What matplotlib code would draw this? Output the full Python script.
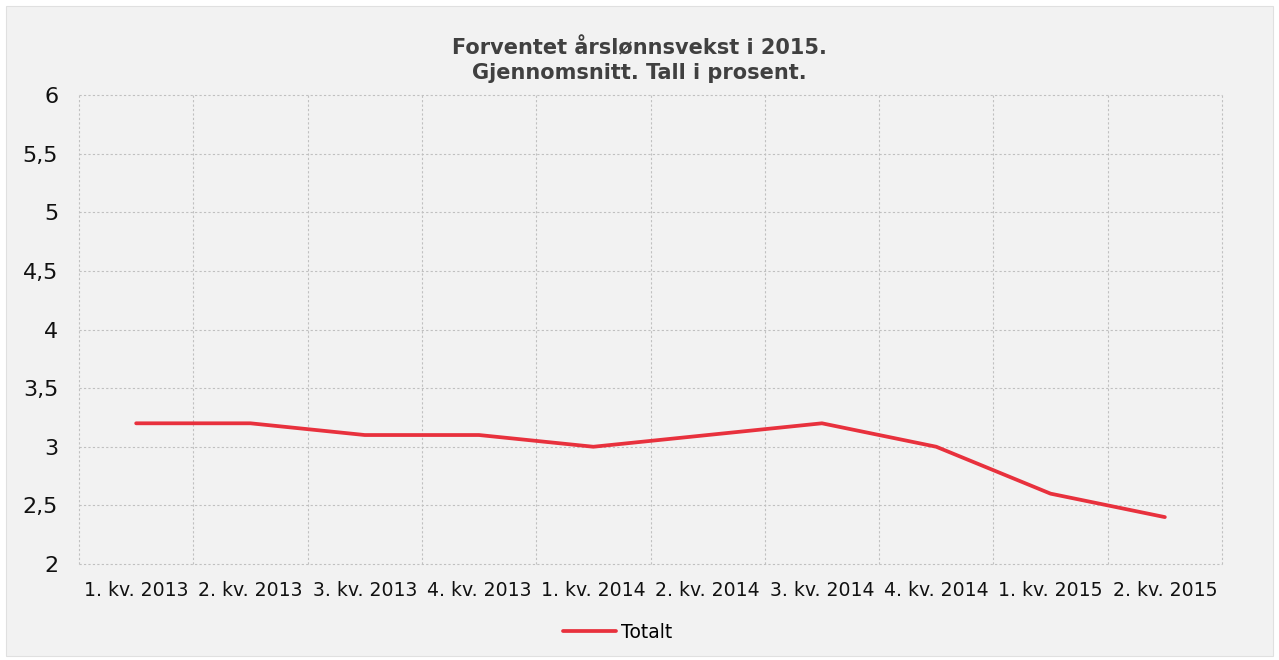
import numpy as np
import matplotlib.pyplot as plt
from matplotlib.patches import Rectangle

# data
kvartal = ['1. kv. 2013', '2. kv. 2013', '3. kv. 2013', '4. kv. 2013',
           '1. kv. 2014', '2. kv. 2014', '3. kv. 2014', '4. kv. 2014',
           '1. kv. 2015', '2. kv. 2015']
totalt = [3.2, 3.2, 3.1, 3.1, 3.0, 3.1, 3.2, 3.0, 2.6, 2.4]
y_ticks = [2, 2.5, 3, 3.5, 4, 4.5, 5, 5.5, 6]

plt.rcParams['font.family'] = ['DejaVu Sans']

fig = plt.figure(figsize=(12.79, 6.6), dpi=100)
fig.patch.set_facecolor('white')
fig.patches.append(Rectangle((6/1279, 4/660), 1267/1279, 650/660,
                             transform=fig.transFigure, facecolor='#f2f2f2',
                             edgecolor='#e0e0e0', linewidth=0.8, zorder=-10))

ax = fig.add_axes([79/1279, 96/660, 1143/1279, 469/660])
ax.set_facecolor('none')

x = np.arange(len(kvartal))
ax.plot(x, totalt, color='#e8313d', linewidth=2.7, solid_capstyle='round',
        label='Totalt')

ax.set_xlim(-0.5, len(kvartal) - 0.5)
ax.set_ylim(2, 6)
ax.set_yticks(y_ticks)
ax.set_yticklabels([('%g' % v).replace('.', ',') for v in y_ticks],
                   fontsize=16, color='#111111')
ax.set_xticks(x)
ax.set_xticklabels(kvartal, fontsize=13.6, color='#111111')
ax.tick_params(length=0)
ax.tick_params(axis='y', pad=15)
ax.tick_params(axis='x', pad=12)

# gridlines between categories
ax.set_xticks(np.arange(-0.5, len(kvartal)), minor=True)
ax.grid(False)
ax.grid(axis='y', which='major', color='#c0c0c0', linestyle=(0, (2, 2)), linewidth=0.8)
ax.grid(axis='x', which='minor', color='#c0c0c0', linestyle=(0, (2, 2)), linewidth=0.8)
ax.tick_params(which='minor', length=0)
for t in ax.yaxis.get_major_ticks() + ax.xaxis.get_minor_ticks():
    t.gridline.set_clip_on(False)
for s in ax.spines.values():
    s.set_visible(False)

fig.text(0.5, 1 - 60/660, 'Forventet årslønnsvekst i 2015.\nGjennomsnitt. Tall i prosent.',
         ha='center', va='center', fontsize=15, fontweight='bold',
         color='#404040', linespacing=1.28)

fig.legend(loc='center', bbox_to_anchor=(618/1279, 1 - 632/660), frameon=False,
           fontsize=13.5, handlelength=2.8, handletextpad=0.3)

fig.savefig('out.png', dpi=100)
